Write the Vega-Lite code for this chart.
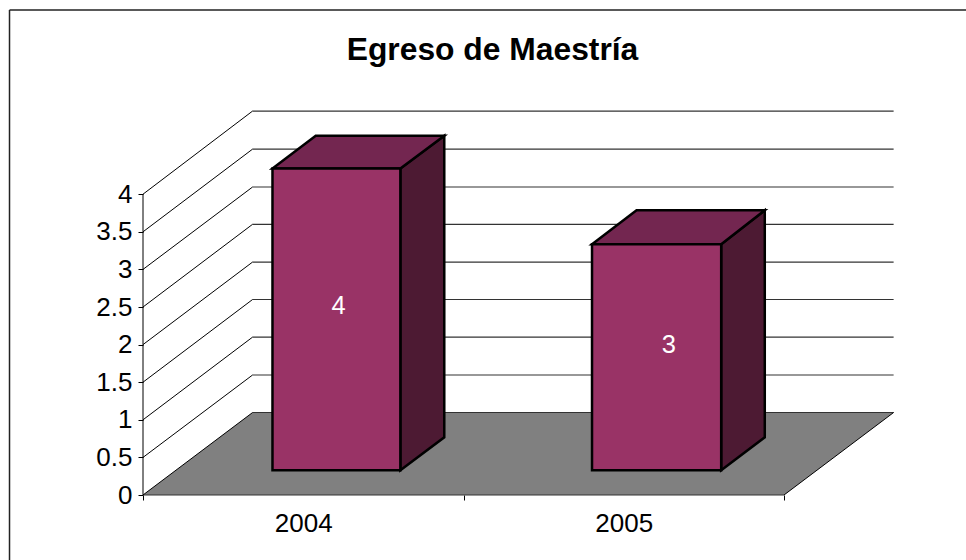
{
"$schema":"https://vega.github.io/schema/vega-lite/v6.json",
"width":751,"height":384,
"autosize":{"type":"none"},
"padding":{"left":143,"top":111,"right":72,"bottom":65},
"background":"white",
"view":{"stroke":null},
"title":{"text":"Egreso de Maestría","font":"Liberation Sans","fontSize":31.8,"fontWeight":"bold","color":"black","anchor":"middle","frame":"group","dx":-26,"offset":-58},
"datasets":{
"floor":[{"x":2003.5,"x2":2005.5,"y":0},{"x":2003.842,"x2":2005.842,"y":1.097}],
"grid":[{"x":2003.842,"x2":2005.842,"y":1.097},{"x":2003.842,"x2":2005.842,"y":1.596},{"x":2003.842,"x2":2005.842,"y":2.1},{"x":2003.842,"x2":2005.842,"y":2.6},{"x":2003.842,"x2":2005.842,"y":3.098},{"x":2003.842,"x2":2005.842,"y":3.6},{"x":2003.842,"x2":2005.842,"y":4.096},{"x":2003.842,"x2":2005.842,"y":4.6},{"x":2003.842,"x2":2005.842,"y":5.106},{"x":2003.5,"x2":2005.5,"y":0}],
"diag":[
{"k":0,"x":2003.5,"y":0},{"k":0,"x":2003.842,"y":1.097},
{"k":0.5,"x":2003.5,"y":0.5},{"k":0.5,"x":2003.842,"y":1.596},
{"k":1,"x":2003.5,"y":1},{"k":1,"x":2003.842,"y":2.1},
{"k":1.5,"x":2003.5,"y":1.5},{"k":1.5,"x":2003.842,"y":2.6},
{"k":2,"x":2003.5,"y":2},{"k":2,"x":2003.842,"y":3.098},
{"k":2.5,"x":2003.5,"y":2.5},{"k":2.5,"x":2003.842,"y":3.6},
{"k":3,"x":2003.5,"y":3},{"k":3,"x":2003.842,"y":4.096},
{"k":3.5,"x":2003.5,"y":3.5},{"k":3.5,"x":2003.842,"y":4.6},
{"k":4,"x":2003.5,"y":4},{"k":4,"x":2003.842,"y":5.106},
{"k":9,"x":2005.5,"y":0},{"k":9,"x":2005.842,"y":1.097}],
"wall":[{"x":2003.5,"y":0,"y2":4}],
"side":[
{"bar":"2004","x":2004.303,"y":0.328,"y2":4.342},{"bar":"2004","x":2004.44,"y":0.767,"y2":4.778},
{"bar":"2005","x":2005.304,"y":0.328,"y2":3.334},{"bar":"2005","x":2005.44,"y":0.767,"y2":3.786}],
"top":[
{"bar":"2004","y":4.342,"x":2003.904,"x2":2004.303},{"bar":"2004","y":4.778,"x":2004.039,"x2":2004.44},
{"bar":"2005","y":3.334,"x":2004.901,"x2":2005.304},{"bar":"2005","y":3.786,"x":2005.04,"x2":2005.44}],
"front":[
{"bar":"2004","x":2003.904,"x2":2004.303,"y":0.328,"y2":4.342},
{"bar":"2005","x":2004.901,"x2":2005.304,"y":0.328,"y2":3.334}],
"labels":[{"x":2004.11,"y":2.512,"value":4},{"x":2005.141,"y":1.995,"value":3}],
"borderH":[{"x":2003.0835,"x2":2006.068,"y":6.449}],
"borderV":[{"x":2003.0835,"y":6.449,"y2":-0.864}]
},
"layer":[
{"data":{"name":"floor"},"mark":{"type":"area","orient":"horizontal","fill":"#808080"},
 "encoding":{
  "x":{"field":"x","type":"quantitative","title":null,"scale":{"domain":[2003.5,2005.8432],"nice":false,"zero":false},
   "axis":{"values":[2003.5,2004,2004.5,2005,2005.5],"domain":false,"grid":false,"tickColor":"black","tickSize":5,"tickOpacity":{"condition":{"test":"datum.value % 1 === 0","value":0},"value":1},"labelExpr":"datum.value % 1 === 0 ? format(datum.value,'d') : ''","labelFont":"Liberation Sans","labelFontSize":26,"labelColor":"black","labelPadding":10,"labelOverlap":false,"labelFlush":false}},
  "x2":{"field":"x2"},
  "y":{"field":"y","type":"quantitative","title":null,"scale":{"domain":[0,5.1064],"nice":false,"zero":false},
   "axis":{"values":[0,0.5,1,1.5,2,2.5,3,3.5,4],"format":"~g","domain":false,"grid":false,"tickColor":"black","tickSize":5,"labelFont":"Liberation Sans","labelFontSize":26,"labelColor":"black","labelPadding":6,"labelOverlap":false,"labelFlush":false}}}},
{"data":{"name":"grid"},"mark":{"type":"rule","stroke":"#333333","strokeWidth":1.2},
 "encoding":{"x":{"field":"x","type":"quantitative"},"x2":{"field":"x2"},"y":{"field":"y","type":"quantitative"}}},
{"data":{"name":"diag"},"mark":{"type":"line","stroke":"black","strokeWidth":1},
 "encoding":{"x":{"field":"x","type":"quantitative"},"y":{"field":"y","type":"quantitative"},"detail":{"field":"k"}}},
{"data":{"name":"wall"},"mark":{"type":"rule","stroke":"black","strokeWidth":1},
 "encoding":{"x":{"field":"x","type":"quantitative"},"y":{"field":"y","type":"quantitative"},"y2":{"field":"y2"}}},
{"data":{"name":"side"},"mark":{"type":"area","orient":"vertical","fill":"#4d1a33","stroke":"black","strokeWidth":2.5},
 "encoding":{"x":{"field":"x","type":"quantitative"},"y":{"field":"y","type":"quantitative"},"y2":{"field":"y2"},"detail":{"field":"bar"}}},
{"data":{"name":"top"},"mark":{"type":"area","orient":"horizontal","fill":"#732650","stroke":"black","strokeWidth":2.5},
 "encoding":{"x":{"field":"x","type":"quantitative"},"x2":{"field":"x2"},"y":{"field":"y","type":"quantitative"},"detail":{"field":"bar"}}},
{"data":{"name":"front"},"mark":{"type":"rect","fill":"#993366","stroke":"black","strokeWidth":2.5},
 "encoding":{"x":{"field":"x","type":"quantitative"},"x2":{"field":"x2"},"y":{"field":"y","type":"quantitative"},"y2":{"field":"y2"}}},
{"data":{"name":"labels"},"mark":{"type":"text","font":"Liberation Sans","fontSize":25.5,"fill":"white","align":"center","baseline":"middle"},
 "encoding":{"x":{"field":"x","type":"quantitative"},"y":{"field":"y","type":"quantitative"},"text":{"field":"value","type":"quantitative"}}},
{"data":{"name":"borderH"},"mark":{"type":"rule","stroke":"#222222","strokeWidth":1.5},
 "encoding":{"x":{"field":"x","type":"quantitative"},"x2":{"field":"x2"},"y":{"field":"y","type":"quantitative"}}},
{"data":{"name":"borderV"},"mark":{"type":"rule","stroke":"#222222","strokeWidth":1.5},
 "encoding":{"x":{"field":"x","type":"quantitative"},"y":{"field":"y","type":"quantitative"},"y2":{"field":"y2"}}}
]
}
